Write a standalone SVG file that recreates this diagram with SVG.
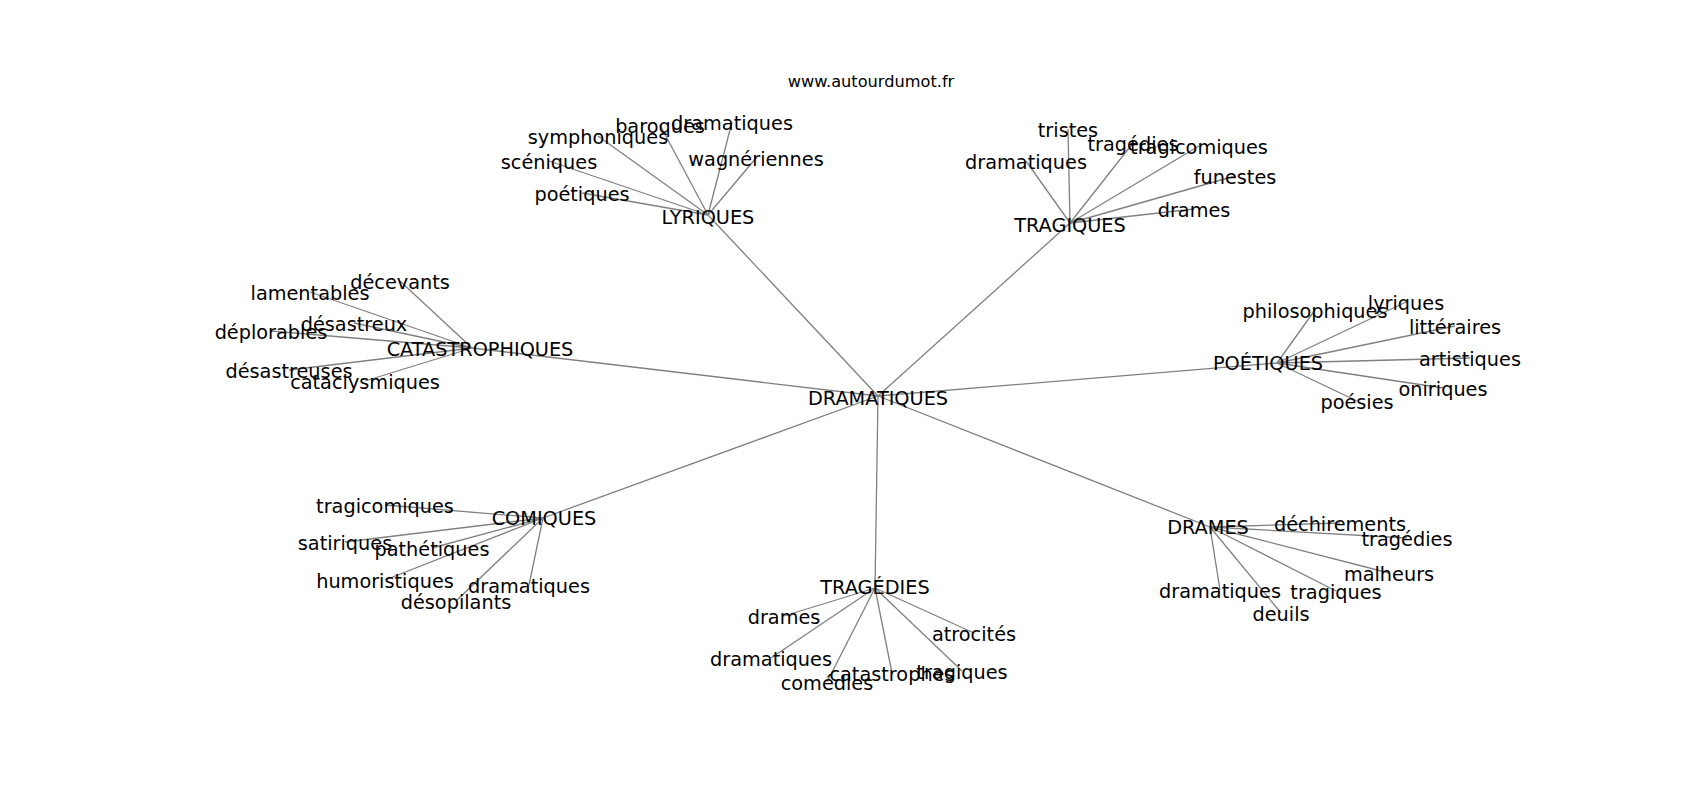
<svg xmlns="http://www.w3.org/2000/svg" width="1700" height="800" viewBox="0 0 1700 800">
<style>
.e{stroke:#808080;stroke-width:1.3;fill:none}
.l{font-family:"DejaVu Sans",sans-serif;font-size:19.3px;text-anchor:middle;fill:#000}
.t{font-family:"DejaVu Sans",sans-serif;font-size:16.2px;text-anchor:middle;fill:#000}
</style>
<rect width="1700" height="800" fill="#fff"/>
<text class="t" x="871" y="87">www.autourdumot.fr</text>
<g id="connectors">
<line class="e" x1="878" y1="396" x2="708" y2="215"/>
<line class="e" x1="878" y1="396" x2="1070" y2="223"/>
<line class="e" x1="878" y1="396" x2="472" y2="348"/>
<line class="e" x1="878" y1="396" x2="1277" y2="363"/>
<line class="e" x1="878" y1="396" x2="543" y2="518"/>
<line class="e" x1="878" y1="396" x2="875" y2="588"/>
<line class="e" x1="878" y1="396" x2="1210" y2="527"/>
<line class="e" x1="708" y1="215" x2="660" y2="125"/>
<line class="e" x1="708" y1="215" x2="732" y2="122"/>
<line class="e" x1="708" y1="215" x2="598" y2="136"/>
<line class="e" x1="708" y1="215" x2="756" y2="158"/>
<line class="e" x1="708" y1="215" x2="549" y2="161"/>
<line class="e" x1="708" y1="215" x2="582" y2="193"/>
<line class="e" x1="1070" y1="223" x2="1068" y2="129"/>
<line class="e" x1="1070" y1="223" x2="1133" y2="143"/>
<line class="e" x1="1070" y1="223" x2="1199" y2="146"/>
<line class="e" x1="1070" y1="223" x2="1026" y2="161"/>
<line class="e" x1="1070" y1="223" x2="1235" y2="176"/>
<line class="e" x1="1070" y1="223" x2="1194" y2="209"/>
<line class="e" x1="472" y1="348" x2="400" y2="281"/>
<line class="e" x1="472" y1="348" x2="310" y2="292"/>
<line class="e" x1="472" y1="348" x2="354" y2="323"/>
<line class="e" x1="472" y1="348" x2="271" y2="331"/>
<line class="e" x1="472" y1="348" x2="289" y2="370"/>
<line class="e" x1="472" y1="348" x2="365" y2="381"/>
<line class="e" x1="1277" y1="363" x2="1315" y2="310"/>
<line class="e" x1="1277" y1="363" x2="1406" y2="302"/>
<line class="e" x1="1277" y1="363" x2="1455" y2="326"/>
<line class="e" x1="1277" y1="363" x2="1470" y2="358"/>
<line class="e" x1="1277" y1="363" x2="1443" y2="388"/>
<line class="e" x1="1277" y1="363" x2="1357" y2="401"/>
<line class="e" x1="543" y1="518" x2="385" y2="505"/>
<line class="e" x1="543" y1="518" x2="345" y2="542"/>
<line class="e" x1="543" y1="518" x2="432" y2="548"/>
<line class="e" x1="543" y1="518" x2="385" y2="580"/>
<line class="e" x1="543" y1="518" x2="529" y2="585"/>
<line class="e" x1="543" y1="518" x2="456" y2="601"/>
<line class="e" x1="875" y1="588" x2="784" y2="616"/>
<line class="e" x1="875" y1="588" x2="974" y2="633"/>
<line class="e" x1="875" y1="588" x2="771" y2="658"/>
<line class="e" x1="875" y1="588" x2="892" y2="673"/>
<line class="e" x1="875" y1="588" x2="962" y2="671"/>
<line class="e" x1="875" y1="588" x2="827" y2="682"/>
<line class="e" x1="1210" y1="527" x2="1340" y2="523"/>
<line class="e" x1="1210" y1="527" x2="1407" y2="538"/>
<line class="e" x1="1210" y1="527" x2="1389" y2="573"/>
<line class="e" x1="1210" y1="527" x2="1336" y2="591"/>
<line class="e" x1="1210" y1="527" x2="1220" y2="590"/>
<line class="e" x1="1210" y1="527" x2="1281" y2="613"/>
</g>
<g id="n-dramatiques"><text class="l" x="878" y="405">DRAMATIQUES</text></g>
<g id="n-lyriques"><text class="l" x="708" y="224">LYRIQUES</text></g>
<g id="n-tragiques"><text class="l" x="1070" y="232">TRAGIQUES</text></g>
<g id="n-catastrophiques"><text class="l" x="480" y="356">CATASTROPHIQUES</text></g>
<g id="n-poetiques"><text class="l" x="1268" y="370">POÉTIQUES</text></g>
<g id="n-comiques"><text class="l" x="544" y="525">COMIQUES</text></g>
<g id="n-tragedies"><text class="l" x="875" y="594">TRAGÉDIES</text></g>
<g id="n-drames"><text class="l" x="1208" y="534">DRAMES</text></g>
<g id="lyr-baroques"><text class="l" x="660" y="133">baroques</text></g>
<g id="lyr-dramatiques"><text class="l" x="732" y="130">dramatiques</text></g>
<g id="lyr-symphoniques"><text class="l" x="598" y="144">symphoniques</text></g>
<g id="lyr-wagneriennes"><text class="l" x="756" y="166">wagnériennes</text></g>
<g id="lyr-sceniques"><text class="l" x="549" y="169">scéniques</text></g>
<g id="lyr-poetiques"><text class="l" x="582" y="201">poétiques</text></g>
<g id="trq-tristes"><text class="l" x="1068" y="137">tristes</text></g>
<g id="trq-tragedies"><text class="l" x="1133" y="151">tragédies</text></g>
<g id="trq-tragicomiques"><text class="l" x="1199" y="154">tragicomiques</text></g>
<g id="trq-dramatiques"><text class="l" x="1026" y="169">dramatiques</text></g>
<g id="trq-funestes"><text class="l" x="1235" y="184">funestes</text></g>
<g id="trq-drames"><text class="l" x="1194" y="217">drames</text></g>
<g id="cat-decevants"><text class="l" x="400" y="289">décevants</text></g>
<g id="cat-lamentables"><text class="l" x="310" y="300">lamentables</text></g>
<g id="cat-desastreux"><text class="l" x="354" y="331">désastreux</text></g>
<g id="cat-deplorables"><text class="l" x="271" y="339">déplorables</text></g>
<g id="cat-desastreuses"><text class="l" x="289" y="378">désastreuses</text></g>
<g id="cat-cataclysmiques"><text class="l" x="365" y="389">cataclysmiques</text></g>
<g id="poe-philosophiques"><text class="l" x="1315" y="318">philosophiques</text></g>
<g id="poe-lyriques"><text class="l" x="1406" y="310">lyriques</text></g>
<g id="poe-litteraires"><text class="l" x="1455" y="334">littéraires</text></g>
<g id="poe-artistiques"><text class="l" x="1470" y="366">artistiques</text></g>
<g id="poe-oniriques"><text class="l" x="1443" y="396">oniriques</text></g>
<g id="poe-poesies"><text class="l" x="1357" y="409">poésies</text></g>
<g id="com-tragicomiques"><text class="l" x="385" y="513">tragicomiques</text></g>
<g id="com-satiriques"><text class="l" x="345" y="550">satiriques</text></g>
<g id="com-pathetiques"><text class="l" x="432" y="556">pathétiques</text></g>
<g id="com-humoristiques"><text class="l" x="385" y="588">humoristiques</text></g>
<g id="com-dramatiques"><text class="l" x="529" y="593">dramatiques</text></g>
<g id="com-desopilants"><text class="l" x="456" y="609">désopilants</text></g>
<g id="tgd-drames"><text class="l" x="784" y="624">drames</text></g>
<g id="tgd-atrocites"><text class="l" x="974" y="641">atrocités</text></g>
<g id="tgd-dramatiques"><text class="l" x="771" y="666">dramatiques</text></g>
<g id="tgd-catastrophes"><text class="l" x="892" y="681">catastrophes</text></g>
<g id="tgd-tragiques"><text class="l" x="962" y="679">tragiques</text></g>
<g id="tgd-comedies"><text class="l" x="827" y="690">comédies</text></g>
<g id="drm-dechirements"><text class="l" x="1340" y="531">déchirements</text></g>
<g id="drm-tragedies"><text class="l" x="1407" y="546">tragédies</text></g>
<g id="drm-malheurs"><text class="l" x="1389" y="581">malheurs</text></g>
<g id="drm-tragiques"><text class="l" x="1336" y="599">tragiques</text></g>
<g id="drm-dramatiques"><text class="l" x="1220" y="598">dramatiques</text></g>
<g id="drm-deuils"><text class="l" x="1281" y="621">deuils</text></g>
</svg>
